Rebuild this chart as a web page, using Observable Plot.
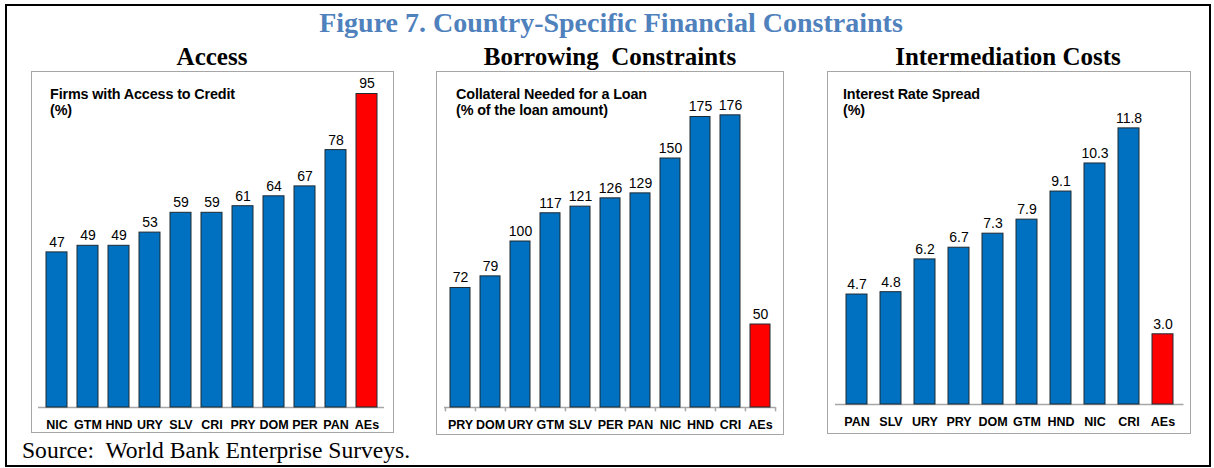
<!DOCTYPE html>
<html>
<head>
<meta charset="utf-8">
<script src="https://cdn.jsdelivr.net/npm/d3@7"></script>
<script src="https://cdn.jsdelivr.net/npm/@observablehq/plot@0.6"></script>
<style>
  html, body { margin: 0; padding: 0; background: #fff; width: 1214px; height: 468px; overflow: hidden; }
  #frame { position: absolute; left: 5px; top: 4px; width: 1206px; height: 463px; box-sizing: border-box; border: 2px solid #000; }
  .serif { font-family: "Liberation Serif", "Times New Roman", serif; position: absolute; text-align: center; white-space: nowrap; }
  #title { left: 111px; width: 1000px; top: 7px; font-size: 28px; line-height: 32px; font-weight: bold; color: #4f81bd; }
  .ptitle { font-size: 25px; line-height: 28px; font-weight: bold; color: #000; top: 43px; width: 400px; }
  #source { left: 22px; top: 437px; font-size: 23.6px; line-height: 26px; text-align: left; }
  .box { position: absolute; border: 1px solid #a6a6a6; }
  .box svg { display: block; overflow: visible; }
  .lab { position: absolute; font-family: "Liberation Sans", Arial, sans-serif; font-weight: bold; font-size: 14.4px; line-height: 15.5px; white-space: nowrap; letter-spacing: -0.15px; }
</style>
</head>
<body>
<div id="frame"></div>
<div id="title" class="serif">Figure 7. Country-Specific Financial Constraints</div>
<div class="serif ptitle" style="left:12px">Access</div>
<div class="serif ptitle" style="left:410px">Borrowing&nbsp; Constraints</div>
<div class="serif ptitle" style="left:808px">Intermediation Costs</div>
<div id="box1" class="box" style="left:31px; top:71px"></div>
<div id="box2" class="box" style="left:436px; top:71px"></div>
<div id="box3" class="box" style="left:827px; top:71px"></div>
<div class="lab" style="left:50px; top:87px">Firms with Access to Credit<br>(%)</div>
<div class="lab" style="left:456px; top:87px">Collateral Needed for a Loan<br>(% of the loan amount)</div>
<div class="lab" style="left:843px; top:87px">Interest Rate Spread<br>(%)</div>
<div id="source" class="serif">Source:&nbsp; World Bank Enterprise Surveys.</div>
<script>
const accessCategories = ["NIC", "GTM", "HND", "URY", "SLV", "CRI", "PRY", "DOM", "PER", "PAN", "AEs"];
const accessValues = [47, 49, 49, 53, 59, 59, 61, 64, 67, 78, 95];

const collateralCategories = ["PRY", "DOM", "URY", "GTM", "SLV", "PER", "PAN", "NIC", "HND", "CRI", "AEs"];
const collateralValues = [72, 79, 100, 117, 121, 126, 129, 150, 175, 176, 50];

const spreadCategories = ["PAN", "SLV", "URY", "PRY", "DOM", "GTM", "HND", "NIC", "CRI", "AEs"];
const spreadValues = [4.7, 4.8, 6.2, 6.7, 7.3, 7.9, 9.1, 10.3, 11.8, 3.0];

const BLUE = "#0070c0";
const RED = "#ff0000";

function panel(opts) {
  const {cats, vals, width, height, mL, mR, mT, mB, yMax, pad, fmt, ticks, tickLen} = opts;
  const data = cats.map((c, i) => ({cat: c, value: vals[i]}));
  const step = (width - mL - mR) / cats.length;
  const marks = [
    Plot.ruleY([0], {stroke: "#a6a6a6", strokeWidth: 1.5}),
    Plot.barY(data, {
      x: "cat", y: "value",
      fill: d => d.cat === "AEs" ? RED : BLUE,
      stroke: "#1f2a33", strokeWidth: 1
    }),
    Plot.text(data, {
      x: "cat", y: "value", text: d => fmt(d.value),
      dy: -10, lineAnchor: "middle", fontSize: 14, fill: "#000"
    }),
    Plot.text(data, {
      x: "cat", frameAnchor: "bottom", text: "cat",
      dy: 17, lineAnchor: "middle", fontSize: 12.5, fontWeight: "bold", fill: "#000"
    })
  ];
  if (ticks) {
    marks.push(Plot.ruleX(data, {x: "cat", y1: 0, y2: -tickLen, dx: -step / 2, stroke: "#a6a6a6", strokeWidth: 1.5}));
    marks.push(Plot.ruleX(data.slice(-1), {x: "cat", y1: 0, y2: -tickLen, dx: step / 2, stroke: "#a6a6a6", strokeWidth: 1.5}));
  }
  return Plot.plot({
    width, height,
    marginLeft: mL, marginRight: mR, marginTop: mT, marginBottom: mB,
    style: {fontFamily: "'Liberation Sans', Arial, sans-serif", background: "#fff", overflow: "visible"},
    x: {domain: cats, axis: null, paddingInner: pad, paddingOuter: pad / 2},
    y: {domain: [0, yMax], axis: null},
    color: {type: "identity"},
    marks
  });
}

document.getElementById("box1").appendChild(panel({
  cats: accessCategories, vals: accessValues,
  width: 361, height: 360, mL: 6, mR: 9, mT: 5, mB: 25, yMax: 100,
  pad: 0.332, fmt: d3.format("d"), ticks: false
}));
document.getElementById("box2").appendChild(panel({
  cats: collateralCategories, vals: collateralValues,
  width: 346, height: 362, mL: 7, mR: 8, mT: 3, mB: 27, yMax: 200,
  pad: 0.335, fmt: d3.format("d"), ticks: true, tickLen: 2.6
}));
document.getElementById("box3").appendChild(panel({
  cats: spreadCategories, vals: spreadValues,
  width: 362, height: 361, mL: 7, mR: 6.5, mT: 4.4, mB: 29, yMax: 14,
  pad: 0.397, fmt: d3.format(".1f"), ticks: false
}));
</script>
</body>
</html>
